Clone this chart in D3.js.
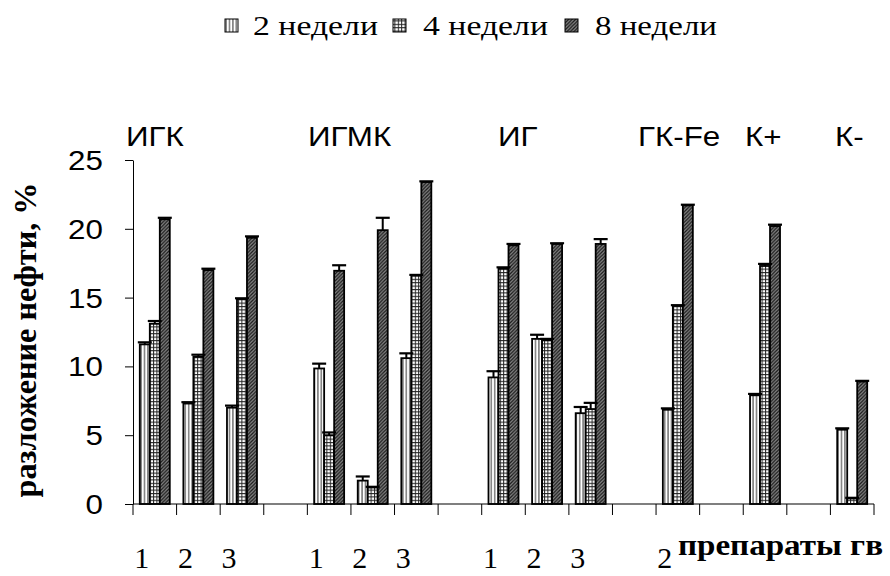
<!DOCTYPE html>
<html>
<head>
<meta charset="utf-8">
<script src="https://cdn.jsdelivr.net/npm/d3@7"></script>
<style>
  html, body { margin: 0; padding: 0; background: #fff; }
  svg { display: block; }
</style>
</head>
<body>
<svg id="chart" width="890" height="576"></svg>
<script>
// ---------- data ----------
const categories = ["ИГК 1","ИГК 2","ИГК 3","gap1","ИГМК 1","ИГМК 2","ИГМК 3","gap2","ИГ 1","ИГ 2","ИГ 3","gap3","ГК-Fe 2","gap4","К+","gap5","К-"];
const tickLabels = ["1","2","3","","1","2","3","","1","2","3","","2","","","",""];
const series = ["2 недели","4 недели","8 недели"];
const values2w = [11.6, 7.3, 7.0, null, 9.85, 1.7, 10.6, null, 9.2, 12.0, 6.6, null, 6.85, null, 7.9, null, 5.4];
const errors2w = [0.15, 0.1, 0.15, null, 0.35, 0.3, 0.35, null, 0.45, 0.3, 0.45, null, 0.1, null, 0.1, null, 0.1];
const values4w = [13.1, 10.7, 14.9, null, 5.0, 1.2, 16.6, null, 17.1, 11.9, 6.9, null, 14.4, null, 17.3, null, 0.4];
const errors4w = [0.2, 0.15, 0.05, null, 0.2, 0.05, 0.05, null, 0.1, 0.1, 0.45, null, 0.05, null, 0.15, null, 0.05];
const values8w = [20.7, 17.0, 19.35, null, 16.95, 19.9, 23.4, null, 18.8, 18.9, 18.9, null, 21.7, null, 20.2, null, 8.9];
const errors8w = [0.1, 0.1, 0.1, null, 0.4, 0.9, 0.05, null, 0.1, 0.05, 0.35, null, 0.05, null, 0.1, null, 0.05];
const yTicks = [0, 5, 10, 15, 20, 25];
const groupLabels = ["ИГК","ИГМК","ИГ","ГК-Fe","К+","К-"];
const yTitle = "разложение нефти, %";
const xTitle = "препараты гв";

// ---------- layout ----------
const svg = d3.select("#chart");
const serif = "'Liberation Serif','Times New Roman',serif";
const sans = "'Liberation Sans',Arial,sans-serif";

const x = d3.scaleBand().domain(categories).range([133, 874]).paddingInner(0).paddingOuter(0);
const xs = d3.scaleBand().domain(series).range([0, x.bandwidth()]).paddingInner(0).paddingOuter(0.68);
const y = d3.scaleLinear().domain([0, 25]).range([504, 160]);

// patterns
const defs = svg.append("defs");
const p2 = defs.append("pattern").attr("id","pat0").attr("patternUnits","userSpaceOnUse").attr("width",3.4).attr("height",4);
p2.append("rect").attr("width",3.4).attr("height",4).attr("fill","#fff");
p2.append("line").attr("x1",1.7).attr("x2",1.7).attr("y1",0).attr("y2",4).attr("stroke","#444").attr("stroke-width",1.1);

const p4 = defs.append("pattern").attr("id","pat1").attr("patternUnits","userSpaceOnUse").attr("width",3.4).attr("height",3.4);
p4.append("rect").attr("width",3.4).attr("height",3.4).attr("fill","#fff");
p4.append("path").attr("d","M0,0.5H3.4M0.5,0V3.4").attr("stroke","#222").attr("stroke-width",1);

const p8 = defs.append("pattern").attr("id","pat2").attr("patternUnits","userSpaceOnUse").attr("width",3.5).attr("height",3.5);
p8.append("rect").attr("width",3.5).attr("height",3.5).attr("fill","#8a8a8a");
p8.append("path").attr("d","M0,3.5L3.5,0M-0.875,0.875L0.875,-0.875M2.625,4.375L4.375,2.625").attr("stroke","#1a1a1a").attr("stroke-width",1.3);

const seriesData = [
  {name: series[0], values: values2w, errors: errors2w},
  {name: series[1], values: values4w, errors: errors4w},
  {name: series[2], values: values8w, errors: errors8w}
];

// bars
seriesData.forEach((s, j) => {
  const g = svg.append("g");
  const pts = categories.map((c, i) => ({c, v: s.values[i], e: s.errors[i]})).filter(d => d.v != null);
  g.selectAll("rect").data(pts).join("rect")
    .attr("x", d => x(d.c) + xs(s.name))
    .attr("y", d => y(d.v))
    .attr("width", xs.bandwidth())
    .attr("height", d => y(0) - y(d.v))
    .attr("fill", `url(#pat${j})`)
    .attr("stroke", "#000")
    .attr("stroke-width", 1.8);
});

// error bars
seriesData.forEach((s) => {
  const g = svg.append("g");
  const pts = categories.map((c, i) => ({c, v: s.values[i], e: s.errors[i]})).filter(d => d.v != null);
  const cx = d => x(d.c) + xs(s.name) + xs.bandwidth() / 2;
  g.selectAll("line.v").data(pts).join("line").attr("class","v")
    .attr("x1", cx).attr("x2", cx)
    .attr("y1", d => y(d.v)).attr("y2", d => y(d.v + d.e))
    .attr("stroke", "#000").attr("stroke-width", 2);
  g.selectAll("line.c").data(pts).join("line").attr("class","c")
    .attr("x1", d => cx(d) - 7).attr("x2", d => cx(d) + 7)
    .attr("y1", d => y(d.v + d.e)).attr("y2", d => y(d.v + d.e))
    .attr("stroke", "#000").attr("stroke-width", 2.2);
});

// y axis
const yAxis = svg.append("g").attr("transform", "translate(133,0)")
  .call(d3.axisLeft(y).tickValues(yTicks).tickSize(8).tickSizeOuter(0).tickPadding(22).tickFormat(d3.format("d")));
yAxis.select(".domain").attr("stroke","#000").attr("stroke-width",1);
yAxis.selectAll(".tick line").attr("stroke","#000");
yAxis.selectAll(".tick text")
  .attr("font-family", sans).attr("font-size", 28).attr("fill","#000")
  .attr("x", 0).attr("dy", "0.34em")
  .attr("transform", "translate(-30,0) scale(1.12,1)");

// x axis line + ticks at band boundaries
const xAxis = svg.append("g");
xAxis.append("line").attr("x1", x.range()[0]).attr("x2", x.range()[1]).attr("y1", y(0)).attr("y2", y(0))
  .attr("stroke","#000").attr("stroke-width",1.2);
const bounds = categories.map(c => x(c)).concat([x.range()[1]]);
xAxis.selectAll("line.t").data(bounds).join("line").attr("class","t")
  .attr("x1", d => d).attr("x2", d => d).attr("y1", y(0)).attr("y2", y(0) + 11)
  .attr("stroke","#000").attr("stroke-width",1);
xAxis.selectAll("text").data(categories.map((c, i) => ({c, t: tickLabels[i]})).filter(d => d.t))
  .join("text")
  .attr("x", d => x(d.c) + x.bandwidth() / 2 - 13)
  .attr("y", 568)
  .attr("text-anchor","middle")
  .attr("font-family", serif).attr("font-size", 30).attr("fill","#000")
  .text(d => d.t);

// x title
svg.append("text").attr("x", 678).attr("y", 555)
  .attr("font-family", serif).attr("font-weight","bold").attr("font-size", 30)
  .attr("textLength", 205).attr("lengthAdjust","spacingAndGlyphs")
  .text(xTitle);

// y title
svg.append("text").attr("transform", "translate(36,340) rotate(-90)")
  .attr("text-anchor","middle")
  .attr("font-family", serif).attr("font-weight","bold").attr("font-size", 31)
  .attr("textLength", 315).attr("lengthAdjust","spacingAndGlyphs")
  .text(yTitle);

// group labels
const groupX = [126, 308, 498, 638, 745, 835];
svg.selectAll("text.grp").data(groupLabels).join("text").attr("class","grp")
  .attr("transform", (d, i) => `translate(${groupX[i]},146) scale(1.12,1)`)
  .attr("font-family", sans).attr("font-size", 28).attr("fill","#000")
  .text(d => d);

// legend
const legX = [225, 393, 565];
const legTextX = [253, 423, 595];
const legLen = [125, 125, 122];
const leg = svg.append("g");
series.forEach((s, j) => {
  leg.append("rect").attr("x", legX[j]).attr("y", 19).attr("width", 13).attr("height", 13)
    .attr("fill", `url(#pat${j})`).attr("stroke","#000").attr("stroke-width",1);
  leg.append("text").attr("x", legTextX[j]).attr("y", 35)
    .attr("font-family", serif).attr("font-size", 27).attr("fill","#000")
    .attr("textLength", legLen[j]).attr("lengthAdjust","spacingAndGlyphs")
    .text(s);
});
</script>
</body>
</html>
